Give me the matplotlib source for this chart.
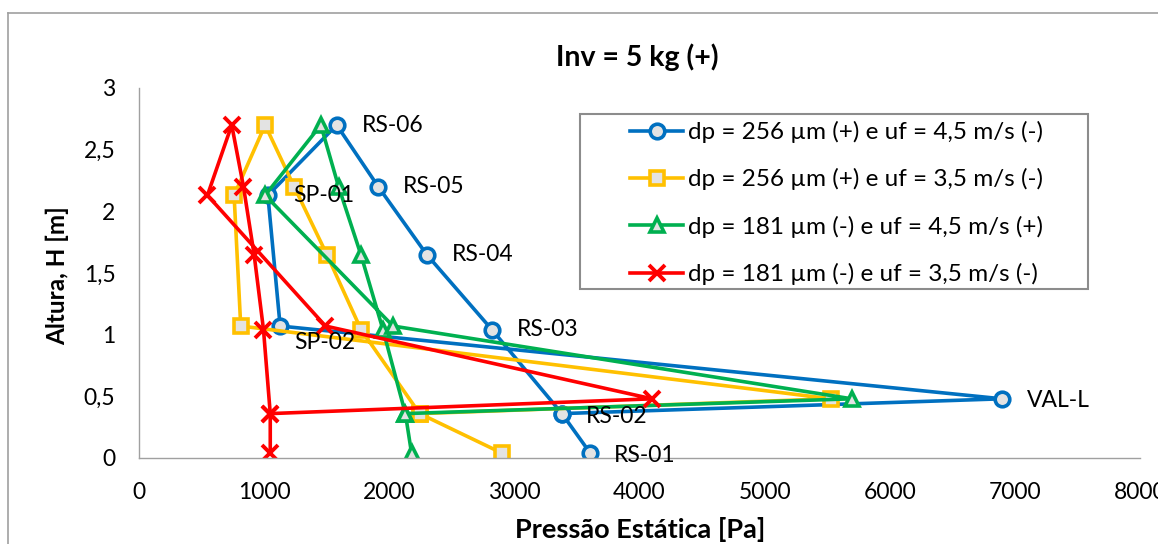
import numpy as np
import matplotlib.pyplot as plt
from matplotlib.lines import Line2D
from matplotlib.patches import Rectangle

plt.rcParams['font.family'] = ['Lato', 'DejaVu Sans']

# sensores e alturas [m]
sensores = ['RS-01', 'RS-02', 'RS-03', 'RS-04', 'RS-05', 'RS-06', 'SP-01', 'SP-02', 'VAL-L']
altura = [0.04, 0.36, 1.04, 1.65, 2.20, 2.70, 2.13, 1.07, 0.48]

# ordem em que os pontos foram ligados na planilha
ordem = ['RS-01', 'RS-02', 'RS-03', 'RS-04', 'RS-05', 'RS-06', 'SP-01', 'SP-02', 'VAL-L', 'RS-02']

# pressao estatica [Pa] em cada sensor
p_256_45 = [3606, 3380, 2821, 2299, 1912, 1580, 1030, 1128, 6896]
p_256_35 = [2900, 2243, 1775, 1501, 1240, 1008, 760, 813, 5531]
p_181_45 = [2178, 2129, 1950, 1773, 1595, 1453, 1008, 2030, 5696]
p_181_35 = [1049, 1049, 995, 920, 835, 741, 547, 1490, 4100]

nomes = ['dp = 256 µm (+) e uf = 4,5 m/s (-)',
         'dp = 256 µm (+) e uf = 3,5 m/s (-)',
         'dp = 181 µm (-) e uf = 4,5 m/s (+)',
         'dp = 181 µm (-) e uf = 3,5 m/s (-)']

series = [p_256_45, p_256_35, p_181_45, p_181_35]
cores = ['#0070C0', '#FFC000', '#00B050', '#FF0000']
marcadores = ['o', 's', '^', 'x']

W, H = 1158, 544
fig = plt.figure(figsize=(W / 100, H / 100), dpi=100)
ax = fig.add_axes([139 / W, 1 - 458 / H, (1140 - 139) / W, (458 - 88) / H])

idx = [sensores.index(s) for s in ordem]
yy = np.array(altura)[idx]
handles = []
for p, c, m, nome in zip(series, cores, marcadores, nomes):
    xx = np.array(p)[idx]
    if m == 'x':
        ln, = ax.plot(xx, yy, color=c, lw=2.6, marker=m, ms=11.5, mew=2.8, mec=c)
    else:
        ln, = ax.plot(xx, yy, color=c, lw=2.6, marker=m, ms=10.5 if m != 's' else 10,
                      mew=2.6, mec=c, mfc='#E3E3E3')
    handles.append(ln)

# rotulos da serie azul
desloc = {'RS-01': (17, -2), 'RS-02': (17, -2), 'RS-03': (18, 0), 'RS-04': (18, 0),
          'RS-05': (18, 0), 'RS-06': (18, 0), 'SP-01': (18, 0), 'SP-02': (10, -12),
          'VAL-L': (18, -1)}
for s, x, y in zip(sensores, p_256_45, altura):
    ax.annotate(s, (x, y), xytext=desloc[s], textcoords='offset points',
                ha='left', va='center', fontsize=16.5, color='black')

ax.set_xlim(0, 8000)
ax.set_ylim(0, 3)
ax.set_xticks(np.arange(0, 8001, 1000))
ax.set_yticks(np.arange(0, 3.01, 0.5))
ax.set_yticklabels(['0', '0,5', '1', '1,5', '2', '2,5', '3'])
ax.tick_params(length=0, labelsize=16.5, pad=17)
for s in ['top', 'right']:
    ax.spines[s].set_visible(False)
for s in ['left', 'bottom']:
    ax.spines[s].set_color('#A0A0A0')
    ax.spines[s].set_linewidth(1.0)

fig.text(637 / W, 1 - 57 / H, 'Inv = 5 kg (+)', ha='center', va='center',
         fontsize=20.5, fontweight='bold')
fig.text(640 / W, 1 - 530 / H, 'Pressão Estática [Pa]', ha='center', va='center',
         fontsize=19.5, fontweight='bold')
fig.text(57 / W, 1 - 276 / H, 'Altura, H [m]', ha='center', va='center',
         rotation=90, fontsize=17.5, fontweight='bold')

# legenda com caixa separada
fig.patches.append(Rectangle((580 / W, 1 - 289 / H), (1088 - 580) / W, (289 - 114) / H,
                             transform=fig.transFigure, fill=False,
                             edgecolor='#8C8C8C', lw=1.5))
fig.legend(handles=handles, labels=nomes, loc='upper left',
           bbox_to_anchor=(630 / W, 1 - 121 / H), bbox_transform=fig.transFigure,
           frameon=False, fontsize=17.5, borderpad=0, borderaxespad=0,
           handlelength=2.2, handletextpad=0.2, labelspacing=1.04)

# moldura externa do grafico
fig.add_artist(Line2D([8 / W, 8 / W], [0, 1 - 13 / H], transform=fig.transFigure,
                      color='#A0A0A0', lw=1.2))
fig.add_artist(Line2D([8 / W, 1], [1 - 13 / H, 1 - 13 / H], transform=fig.transFigure,
                      color='#A0A0A0', lw=1.2))

fig.savefig('out.png', dpi=100)
